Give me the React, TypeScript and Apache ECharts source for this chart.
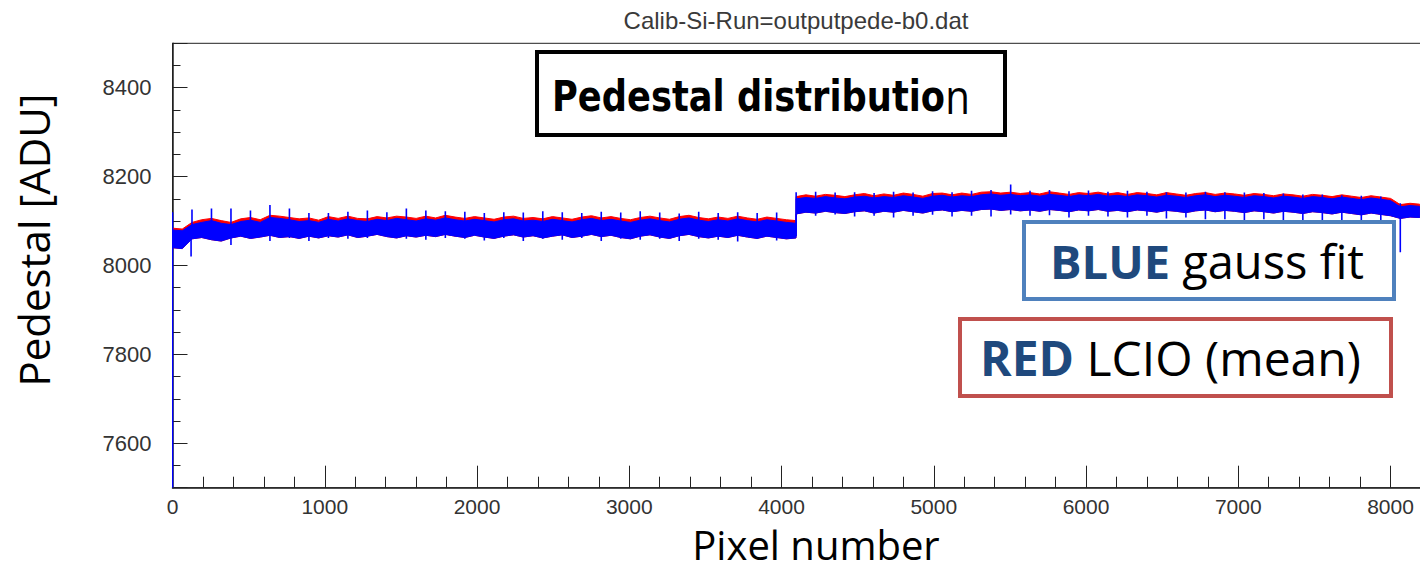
import React, { useEffect, useRef } from "react";
import * as echarts from "echarts";

// ---- Data ----
// Segment 1: pixels 0..4095, samples every 64 pixels (+ last pixel 4095)
const seg1BlueHi = [
  8080, 8078, 8092, 8097, 8101, 8095, 8092, 8099, 8102, 8097, 8108, 8106, 8103, 8099, 8101, 8097,
  8104, 8100, 8105, 8101, 8099, 8104, 8101, 8106, 8103, 8100, 8105, 8102, 8107, 8103, 8100, 8104,
  8101, 8098, 8103, 8105, 8100, 8102, 8099, 8104, 8101, 8098, 8103, 8106, 8101, 8104, 8100, 8097,
  8102, 8105, 8101, 8098, 8104, 8107, 8102, 8099, 8103, 8100, 8105, 8101, 8098, 8103, 8100, 8097,
  8095,
];
const seg1BlueLo = [
  8040, 8038, 8060, 8063, 8058, 8055, 8062, 8066, 8061, 8064, 8068, 8063, 8065, 8061, 8066, 8062,
  8067, 8064, 8069, 8063, 8066, 8070, 8065, 8062, 8067, 8064, 8068, 8065, 8070, 8066, 8063, 8068,
  8064, 8061, 8066, 8069, 8064, 8067, 8062, 8066, 8069, 8063, 8066, 8070, 8065, 8068, 8063, 8060,
  8066, 8069, 8064, 8061, 8067, 8070, 8065, 8062, 8066, 8063, 8068, 8064, 8061, 8066, 8063, 8060,
  8062,
];
const seg1RedHi = [
  8084, 8082, 8097, 8103, 8106, 8101, 8097, 8105, 8108, 8103, 8113, 8111, 8108, 8105, 8107, 8102,
  8110, 8106, 8111, 8106, 8105, 8110, 8107, 8111, 8109, 8106, 8111, 8107, 8113, 8109, 8106, 8110,
  8107, 8104, 8109, 8111, 8106, 8108, 8105, 8110, 8107, 8104, 8109, 8112, 8107, 8110, 8106, 8103,
  8108, 8111, 8107, 8104, 8110, 8113, 8108, 8105, 8109, 8106, 8111, 8107, 8104, 8109, 8106, 8103,
  8101,
];
// Segment 2: pixels 4096..8191, samples every 64 pixels (+ last pixel 8191)
const seg2BlueHi = [
  8150, 8153, 8151, 8155, 8152, 8150, 8154, 8156, 8152, 8155, 8153, 8157, 8154, 8151, 8156, 8158,
  8154, 8157, 8155, 8159, 8161, 8158, 8160, 8157, 8159, 8156, 8160, 8158, 8155, 8159, 8157, 8160,
  8156, 8158, 8155, 8159, 8157, 8154, 8158, 8156, 8153, 8157, 8159, 8155, 8158, 8156, 8153, 8157,
  8155, 8152, 8156, 8154, 8151, 8155, 8153, 8150, 8154, 8151, 8148, 8152, 8149, 8146, 8132, 8135,
  8133,
];
const seg2BlueLo = [
  8116, 8120, 8118, 8122, 8119, 8117, 8121, 8123, 8118, 8122, 8120, 8124, 8121, 8118, 8123, 8125,
  8121, 8124, 8122, 8126, 8127, 8124, 8126, 8123, 8125, 8122, 8126, 8124, 8121, 8125, 8123, 8126,
  8122, 8124, 8121, 8125, 8123, 8120, 8124, 8122, 8119, 8123, 8125, 8121, 8124, 8122, 8119, 8123,
  8121, 8118, 8122, 8120, 8117, 8121, 8119, 8116, 8120, 8117, 8114, 8118, 8115, 8112, 8106, 8109,
  8108,
];
const seg2RedHi = [
  8155, 8159, 8156, 8160, 8158, 8155, 8159, 8162, 8157, 8161, 8158, 8163, 8160, 8156, 8162, 8163,
  8159, 8163, 8160, 8165, 8166, 8163, 8165, 8162, 8164, 8161, 8166, 8163, 8160, 8164, 8162, 8165,
  8161, 8164, 8160, 8164, 8162, 8159, 8164, 8161, 8158, 8162, 8164, 8160, 8163, 8161, 8158, 8162,
  8160, 8157, 8161, 8159, 8156, 8160, 8158, 8155, 8159, 8156, 8153, 8157, 8154, 8151, 8137, 8140,
  8138,
];
// Blue spikes: [pixel, low, high]
const blueSpikes: number[][] = [
  [0, 7500, 8120], [122, 8020, 8070], [128, 8060, 8126], [256, 8062, 8128], [384, 8046, 8128],
  [512, 8062, 8124], [640, 8055, 8136], [768, 8062, 8128], [896, 8055, 8118], [1024, 8062, 8118],
  [1152, 8060, 8121], [1280, 8062, 8124], [1408, 8065, 8120], [1536, 8060, 8128], [1664, 8058, 8124],
  [1792, 8062, 8122], [1920, 8060, 8121], [2048, 8056, 8118], [2176, 8062, 8120], [2304, 8055, 8119],
  [2432, 8060, 8122], [2560, 8058, 8120], [2688, 8062, 8118], [2816, 8055, 8121], [2944, 8060, 8119],
  [3072, 8058, 8122], [3200, 8060, 8119], [3328, 8055, 8117], [3456, 8060, 8121], [3584, 8058, 8118],
  [3712, 8054, 8120], [3840, 8060, 8118], [3968, 8056, 8119], [4096, 8066, 8165],
  [4224, 8112, 8166], [4352, 8115, 8164], [4480, 8110, 8165], [4608, 8112, 8163], [4736, 8108, 8166],
  [4864, 8112, 8164], [4992, 8114, 8167], [5120, 8110, 8165], [5248, 8112, 8168], [5376, 8110, 8170],
  [5505, 8115, 8182], [5632, 8112, 8168], [5760, 8113, 8170], [5888, 8108, 8167], [6016, 8112, 8169],
  [6144, 8110, 8166], [6272, 8108, 8168], [6400, 8112, 8166], [6528, 8106, 8165], [6656, 8108, 8164],
  [6784, 8104, 8166], [6912, 8104, 8165], [7040, 8102, 8164], [7168, 8104, 8163], [7296, 8102, 8162],
  [7424, 8100, 8160], [7552, 8102, 8160], [7680, 8098, 8158], [7808, 8100, 8157], [7936, 8083, 8155],
  [8064, 8030, 8140],
];

const X_MIN = 0;
const X_MAX = 8200;
const Y_MIN = 7500;
const Y_MAX = 8500;

const TITLE = "Calib-Si-Run=outputpede-b0.dat";
const X_NAME = "Pixel number";
const Y_NAME = "Pedestal [ADU]";

// Build full arrays
const seg1Px = seg1BlueHi.map((_, i) => (i < seg1BlueHi.length - 1 ? i * 64 : 4095));
const seg2Px = seg2BlueHi.map((_, i) => (i < seg2BlueHi.length - 1 ? 4096 + i * 64 : 8191));
const allPx = seg1Px.concat(seg2Px);
const allBlueHi = seg1BlueHi.concat(seg2BlueHi);
const allBlueLo = seg1BlueLo.concat(seg2BlueLo);
const allRedHi = seg1RedHi.concat(seg2RedHi);

const bandRender = (px: number[], lo: number[], hi: number[], color: string) =>
  (params: any, api: any) => {
    const top = px.map((x, i) => api.coord([x, hi[i]]));
    const bot = px.map((x, i) => api.coord([x, lo[i]])).reverse();
    return {
      type: "polygon",
      shape: { points: top.concat(bot) },
      style: { fill: color, stroke: color, lineWidth: 1 },
    };
  };

export default function App() {
  const ref = useRef<HTMLDivElement>(null);
  useEffect(() => {
    if (!ref.current) return;
    const chart = echarts.init(ref.current, undefined, { renderer: "svg" });
    const axisColor = "#222";
    const labelFont = "Liberation Sans";
    chart.setOption({
      animation: false,
      backgroundColor: "#ffffff",
      grid: {
        left: 172.5,
        right: 1.4,
        top: 43.3,
        bottom: 82.3,
        show: true,
        borderColor: axisColor,
        borderWidth: 1,
      },
      xAxis: [
        {
          type: "value",
          min: X_MIN,
          max: X_MAX,
          interval: 1000,
          position: "bottom",
          axisLine: { show: true, onZero: false, lineStyle: { color: axisColor, width: 1.5 } },
          axisTick: { show: true, inside: true, length: 22, lineStyle: { color: axisColor, width: 1 } },
          axisLabel: {
            margin: 9,
            fontFamily: labelFont,
            fontSize: 21,
            lineHeight: 20,
            color: "#333",
            formatter: (v: number) => (v % 1000 === 0 && v <= 8000 ? String(v) : ""),
          },
          splitLine: { show: false },
        },
        {
          type: "value",
          min: X_MIN,
          max: X_MAX,
          interval: 200,
          position: "bottom",
          axisLine: { show: false, onZero: false },
          axisTick: { show: true, inside: true, length: 11, lineStyle: { color: axisColor, width: 1 } },
          axisLabel: { show: false },
          splitLine: { show: false },
        },
      ],
      yAxis: [
        {
          type: "value",
          min: Y_MIN,
          max: Y_MAX,
          splitNumber: 5,
          position: "left",
          axisLine: { show: true, onZero: false, lineStyle: { color: axisColor, width: 1.5 } },
          axisTick: { show: true, inside: true, length: 15, lineStyle: { color: axisColor, width: 1 } },
          axisLabel: {
            margin: 21,
            fontFamily: labelFont,
            fontSize: 22,
            color: "#333",
            formatter: (v: number) => (v % 200 === 0 ? String(v) : ""),
          },
          splitLine: { show: false },
        },
        {
          type: "value",
          min: Y_MIN,
          max: Y_MAX,
          interval: 50,
          position: "left",
          axisLine: { show: false, onZero: false },
          axisTick: { show: true, inside: true, length: 8, lineStyle: { color: axisColor, width: 1 } },
          axisLabel: { show: false },
          splitLine: { show: false },
        },
      ],
      series: [
        {
          type: "custom",
          name: "LCIO mean",
          xAxisIndex: 0,
          yAxisIndex: 0,
          silent: true,
          clip: true,
          z: 2,
          data: [[allPx[0], allRedHi[0]]],
          renderItem: bandRender(allPx, allBlueLo, allRedHi, "#ff0000"),
        },
        {
          type: "custom",
          name: "gauss fit",
          xAxisIndex: 0,
          yAxisIndex: 0,
          silent: true,
          clip: true,
          z: 3,
          data: [[allPx[0], allBlueHi[0]]],
          renderItem: bandRender(allPx, allBlueLo, allBlueHi, "#0000ff"),
        },
        {
          type: "custom",
          name: "spikes",
          xAxisIndex: 0,
          yAxisIndex: 0,
          silent: true,
          clip: true,
          z: 4,
          encode: { x: 0, y: [1, 2] },
          data: blueSpikes,
          renderItem: (params: any, api: any) => {
            const a = api.coord([api.value(0), api.value(1)]);
            const b = api.coord([api.value(0), api.value(2)]);
            return {
              type: "line",
              shape: { x1: a[0], y1: a[1], x2: b[0], y2: b[1] },
              style: { stroke: "#0000ff", lineWidth: 1.6 },
            };
          },
        },
      ],
      graphic: [
        {
          type: "text",
          x: 796,
          y: 20,
          style: {
            text: TITLE,
            fontFamily: labelFont,
            fontSize: 24,
            fill: "#3a3a3a",
            align: "center",
            verticalAlign: "middle",
          },
        },
        {
          type: "text",
          x: 816,
          y: 544,
          style: {
            text: X_NAME,
            fontFamily: "Open Sans",
            fontSize: 40,
            lineHeight: 40,
            fill: "#000",
            align: "center",
            verticalAlign: "middle",
          },
        },
        {
          type: "text",
          x: 33,
          y: 240,
          rotation: Math.PI / 2,
          style: {
            text: Y_NAME,
            fontFamily: "Open Sans",
            fontSize: 42,
            fill: "#000",
            align: "center",
            verticalAlign: "middle",
          },
        },
        {
          type: "rect",
          shape: { x: 537, y: 52, width: 468, height: 83 },
          style: { fill: "#fff", stroke: "#000", lineWidth: 4 },
          z: 10,
        },
        {
          type: "text",
          x: 552,
          y: 96,
          scaleX: 0.84,
          z: 11,
          style: {
            text: "{a|Pedestal distributio}{b|n}",
            align: "left",
            verticalAlign: "middle",
            rich: {
              a: { fontFamily: "DejaVu Sans", fontWeight: "bold", fontSize: 42, fill: "#000" },
              b: { fontFamily: "Open Sans", fontSize: 48, fill: "#000" },
            },
          },
        },
        {
          type: "rect",
          shape: { x: 1024, y: 222, width: 370, height: 77 },
          style: { fill: "#fff", stroke: "#4F81BD", lineWidth: 4 },
          z: 10,
        },
        {
          type: "text",
          x: 1050,
          y: 261,
          z: 11,
          style: {
            text: "{a|BLUE}{b| gauss fit}",
            align: "left",
            verticalAlign: "middle",
            rich: {
              a: { fontFamily: "Open Sans", fontWeight: "bold", fontSize: 47, fill: "#1F497D" },
              b: { fontFamily: "Open Sans", fontSize: 47, fill: "#000" },
            },
          },
        },
        {
          type: "rect",
          shape: { x: 960, y: 319, width: 431, height: 77 },
          style: { fill: "#fff", stroke: "#C0504D", lineWidth: 4 },
          z: 10,
        },
        {
          type: "text",
          x: 980,
          y: 357,
          z: 11,
          style: {
            text: "{a|RED}{b| LCIO (mean)}",
            align: "left",
            verticalAlign: "middle",
            rich: {
              a: { fontFamily: "Open Sans", fontWeight: "bold", fontSize: 48, fill: "#1F497D" },
              b: { fontFamily: "Open Sans", fontSize: 48, fill: "#000" },
            },
          },
        },
      ],
    });
    return () => chart.dispose();
  }, []);
  return (
    <div style={{ position: "absolute", left: 0, top: 0, width: 1420, height: 570, overflow: "hidden", background: "#fff" }}>
      <div ref={ref} style={{ width: 1424, height: 570 }} />
    </div>
  );
}
